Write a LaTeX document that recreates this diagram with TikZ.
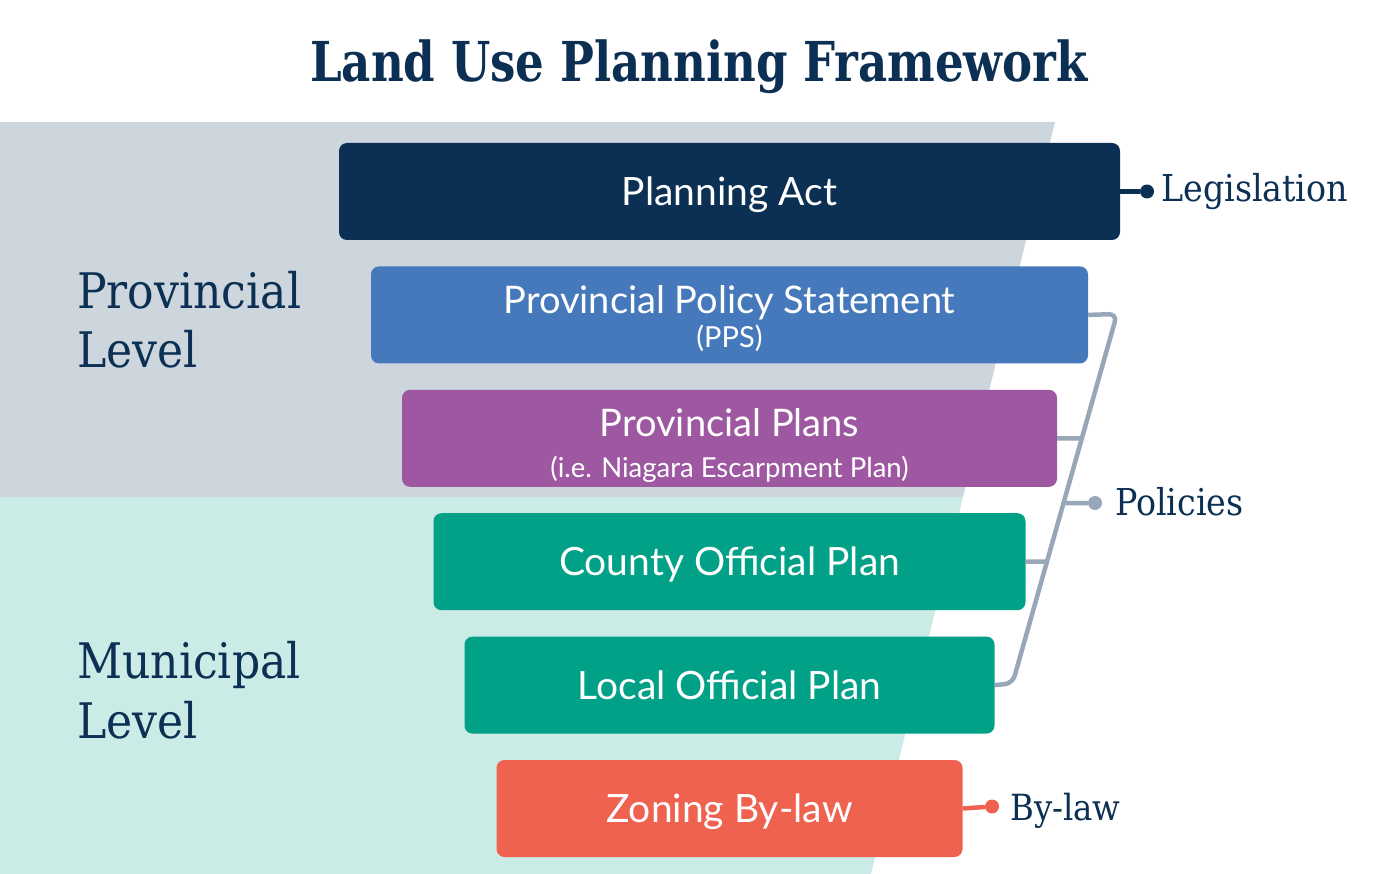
\documentclass[tikz,border=0pt]{standalone}
\usepackage{fontspec}
\setmainfont{Lato}
\newfontfamily\slabfont[FakeStretch=0.9]{DejaVu Serif}
\newfontfamily\titlefont[FakeStretch=0.82]{DejaVu Serif}
\usetikzlibrary{positioning, calc}
\definecolor{landnavy}{HTML}{0C3053}
\definecolor{provgrey}{HTML}{CDD5DD}
\definecolor{munimint}{HTML}{CBEBE6}
\definecolor{ppsblue}{HTML}{4679BB}
\definecolor{planpurple}{HTML}{9D58A1}
\definecolor{opteal}{HTML}{00A186}
\definecolor{bylawred}{HTML}{F06250}
\definecolor{linkgrey}{HTML}{97A7B7}

\begin{document}
\begin{tikzpicture}[
      x=1pt, y=-1pt,
      layer/.style={rectangle, rounded corners=8pt, minimum height=97pt, inner sep=0pt, text=white, text height=27.9pt, text depth=0pt, font=\fontsize{39}{44}\selectfont},
      layertext/.style={anchor=base, inner sep=0pt, text=white},
      tag/.style={anchor=base west, inner sep=0pt, text=landnavy, font=\slabfont\fontsize{37}{40}\selectfont},
      level/.style={anchor=base west, inner sep=0pt, text=landnavy, font=\slabfont\fontsize{49}{59}\selectfont},
      pin/.style={circle, inner sep=0pt, minimum size=14pt},
      link/.style={line width=4.5pt, draw=linkgrey}
    ]
      \useasboundingbox (0,0) rectangle (1400,874);
      % two levels behind the stack
      \fill[provgrey] (0,122) -- (1055,122) -- (963,497) -- (0,497) -- cycle;
      \fill[munimint] (0,497) -- (963,497) -- (871,874) -- (0,874) -- cycle;

      \node[anchor=base, inner sep=0pt, text=landnavy, font=\titlefont\bfseries\fontsize{55}{60}\selectfont] (title) at (699,82) {Land Use Planning Framework};

      \node[level] (provA) at (77,309) {Provincial};
      \node[level] (provB) at (77,368) {Level};
      \node[level] (muniA) at (77,678) {Municipal};
      \node[level] (muniB) at (77,738) {Level};

      % the stack
      \node[layer, fill=landnavy, minimum width=781pt] (act) at (729.5,191.5) {Planning Act};
      \node[layer, fill=ppsblue, minimum width=717pt, below=26pt of act] (pps) {};
      \node[layer, fill=planpurple, minimum width=655pt, below=26pt of pps] (plans) {};
      \node[layer, fill=opteal, minimum width=592pt, below=26pt of plans] (county) {County Official Plan};
      \node[layer, fill=opteal, minimum width=530pt, below=26pt of county] (local) {Local Official Plan};
      \node[layer, fill=bylawred, minimum width=466pt, below=26pt of local] (zoning) {Zoning By-law};

      \node[layertext, font=\fontsize{38}{44}\selectfont] (ppsname) at ($(pps.center)+(0,-1)$) {Provincial Policy Statement};
      \node[layertext, font=\fontsize{29}{34}\selectfont] (ppsshort) at ($(pps.center)+(0,33)$) {(PPS)};
      \node[layertext, font=\fontsize{38}{44}\selectfont] (plansname) at ($(plans.center)+(0,-1.5)$) {Provincial Plans};
      \node[layertext, font=\fontsize{27.5}{32}\selectfont] (plansnote) at ($(plans.center)+(0,39.5)$) {(i.e. Niagara Escarpment Plan)};

      % legislation
      \node[pin, fill=landnavy] (legdot) at (1147,191.5) {};
      \node[tag] (legislation) at (1161,202) {Legislation};
      \draw[line width=4.5pt, landnavy] (act.east) -- (legdot);

      % policies bracket
      \coordinate (ptop) at (1117,314);
      \coordinate (pbot) at (1012.5,683.5);
      \coordinate (polleft) at (1000,503);
      \draw[link, rounded corners=8pt] (pps.east) -- (ptop) -- (pbot) -- (local.east);
      \draw[link] (plans.east) -- (intersection of ptop--pbot and plans.east--plans.west);
      \draw[link] (county.east) -- (intersection of ptop--pbot and county.east--county.west);
      \node[pin, fill=linkgrey] (poldot) at (1095,503) {};
      \node[tag] (policies) at (1115,515) {Policies};
      \draw[link] (intersection of ptop--pbot and polleft--poldot) -- (poldot);

      % by-law
      \node[pin, fill=bylawred] (lawdot) at (992,806.5) {};
      \node[tag, font=\slabfont\fontsize{36}{40}\selectfont] (bylaw) at (1010,820) {By-law};
      \draw[line width=4.5pt, bylawred] (zoning.east) -- (lawdot);
    \end{tikzpicture}
\end{document}
